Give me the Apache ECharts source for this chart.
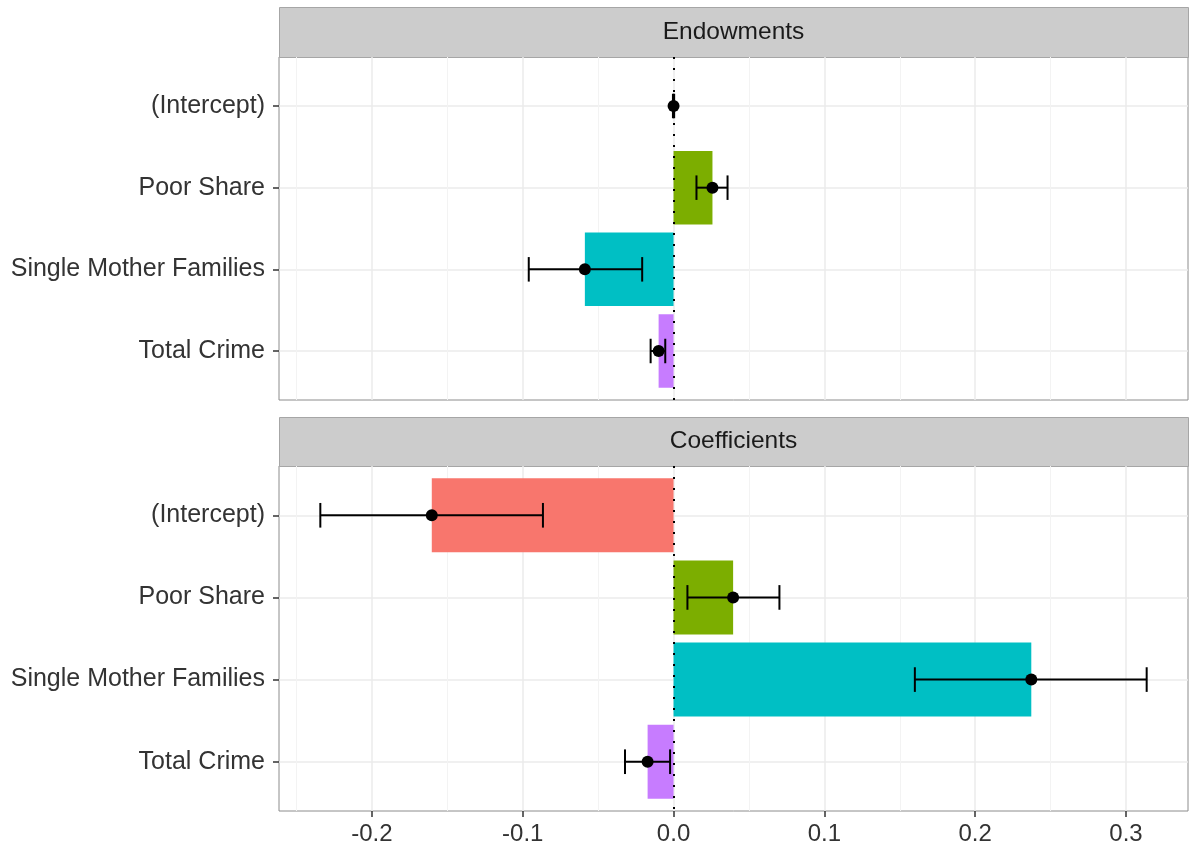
<!DOCTYPE html>
<html>
<head>
<meta charset="utf-8">
<script src="https://cdn.jsdelivr.net/npm/echarts@6/dist/echarts.min.js"></script>
<style>
  html, body { margin: 0; padding: 0; background: #fff; }
  #chart { width: 1193px; height: 850px; }
</style>
</head>
<body>
<div id="chart"></div>
<script>
const categories = ['(Intercept)', 'Poor Share', 'Single Mother Families', 'Total Crime']
const panels = ['Endowments', 'Coefficients']
const palette = ['#F8766D', '#7CAE00', '#00BFC4', '#C77CFF']

// estimates and 95% bounds
const endowEst = [0.0, 0.0258, -0.0588, -0.0099]
const endowLo = [-0.0004, 0.0152, -0.0960, -0.0152]
const endowHi = [0.0004, 0.0358, -0.0208, -0.0055]
const coefEst = [-0.1603, 0.0395, 0.2372, -0.0172]
const coefLo = [-0.2342, 0.0092, 0.1600, -0.0322]
const coefHi = [-0.0866, 0.0702, 0.3137, -0.0023]

const majorTicks = [-0.2, -0.1, 0.0, 0.1, 0.2, 0.3]
const minorTicks = [-0.25, -0.15, -0.05, 0.05, 0.15, 0.25]
const catPos = [1, 2, 3, 4]

const xMin = -0.2616
const xMax = 0.3411
const font = 'Liberation Sans, Arial, Helvetica, sans-serif'

const grids = [
  { left: 279, right: 5, top: 57, height: 343 },
  { left: 279, right: 5, top: 466, height: 345 },
]

const xAxes = []
const yAxes = []
grids.forEach((g, i) => {
  const last = i === grids.length - 1
  xAxes.push({
    type: 'value', gridIndex: i, min: xMin, max: xMax,
    axisLine: { show: false, onZero: false },
    axisTick: { show: last, customValues: majorTicks, length: 6, lineStyle: { color: '#333', width: 1.5 } },
    axisLabel: {
      show: last, customValues: majorTicks, margin: 11,
      color: '#333', fontFamily: font, fontSize: 24,
      formatter: v => v.toFixed(1),
    },
    splitLine: { show: true, lineStyle: { color: '#EBEBEB', width: 1.5 } },
  })
  xAxes.push({
    type: 'value', gridIndex: i, min: xMin, max: xMax,
    axisLine: { show: false, onZero: false },
    axisTick: { show: false, customValues: minorTicks },
    axisLabel: { show: false, customValues: minorTicks },
    splitLine: { show: true, lineStyle: { color: '#F3F3F3', width: 1 } },
  })
  yAxes.push({
    type: 'value', gridIndex: i, min: 0.4, max: 4.6, inverse: true,
    axisLine: { show: false, onZero: false },
    axisTick: { show: true, customValues: catPos, length: 6, lineStyle: { color: '#333', width: 1.5 } },
    axisLabel: {
      customValues: catPos, margin: 14,
      color: '#333', fontFamily: font, fontSize: 25,
      formatter: v => categories[Math.round(v) - 1],
    },
    splitLine: { show: true, lineStyle: { color: '#EBEBEB', width: 1.5 } },
  })
})

function barItem(params, api) {
  const v = api.value(0)
  const y = api.value(1)
  const p0 = api.coord([0, y - 0.45])
  const p1 = api.coord([v, y + 0.45])
  return {
    type: 'rect',
    shape: {
      x: Math.min(p0[0], p1[0]), y: Math.min(p0[1], p1[1]),
      width: Math.abs(p1[0] - p0[0]), height: Math.abs(p1[1] - p0[1]),
    },
    style: { fill: palette[Math.round(y) - 1] },
  }
}

function errItem(params, api) {
  const y = api.value(2)
  const lo = api.coord([api.value(0), y])
  const hi = api.coord([api.value(1), y])
  const h = api.size([0, 0.3])[1]
  const st = { stroke: '#000', lineWidth: 2 }
  return {
    type: 'group',
    children: [
      { type: 'line', shape: { x1: lo[0], y1: lo[1], x2: hi[0], y2: hi[1] }, style: st },
      { type: 'line', shape: { x1: lo[0], y1: lo[1] - h / 2, x2: lo[0], y2: lo[1] + h / 2 }, style: st },
      { type: 'line', shape: { x1: hi[0], y1: hi[1] - h / 2, x2: hi[0], y2: hi[1] + h / 2 }, style: st },
    ],
  }
}

const est = [endowEst, coefEst]
const lo = [endowLo, coefLo]
const hi = [endowHi, coefHi]
const series = []
grids.forEach((g, i) => {
  series.push({
    type: 'custom', xAxisIndex: i * 2, yAxisIndex: i, clip: true,
    renderItem: barItem, encode: { x: 0, y: 1 },
    data: est[i].map((v, k) => [v, catPos[k]]),
    markLine: {
      silent: true, symbol: 'none', label: { show: false }, z: 5,
      lineStyle: { color: '#000', type: [2, 9], width: 2 },
      data: [{ xAxis: 0 }],
    },
  })
  series.push({
    type: 'custom', xAxisIndex: i * 2, yAxisIndex: i, z: 6,
    renderItem: errItem, encode: { x: [0, 1], y: 2 },
    data: lo[i].map((v, k) => [v, hi[i][k], catPos[k]]),
  })
  series.push({
    type: 'scatter', xAxisIndex: i * 2, yAxisIndex: i, z: 7,
    symbolSize: 12, itemStyle: { color: '#000', opacity: 1 },
    data: est[i].map((v, k) => [v, catPos[k]]),
  })
})

const strips = [
  { top: 7, bottom: 57 },
  { top: 417, bottom: 466 },
]
const graphics = []
strips.forEach((s, i) => {
  graphics.push({
    type: 'rect', left: 279, top: s.top,
    shape: { width: 909, height: s.bottom - s.top },
    style: { fill: '#CCCCCC', stroke: '#A6A6A6', lineWidth: 1 },
  })
  graphics.push({
    type: 'text', x: 733.5, y: (s.top + s.bottom) / 2,
    style: {
      text: panels[i], fill: '#1A1A1A', font: '24.5px ' + font,
      textAlign: 'center', textVerticalAlign: 'middle',
    },
  })
})

const chart = echarts.init(document.getElementById('chart'))
chart.setOption({
  animation: false,
  grid: grids.map(g => Object.assign({ show: true, borderColor: '#8C8C8C', borderWidth: 1 }, g)),
  xAxis: xAxes,
  yAxis: yAxes,
  series: series,
  graphic: graphics,
})
</script>
</body>
</html>
